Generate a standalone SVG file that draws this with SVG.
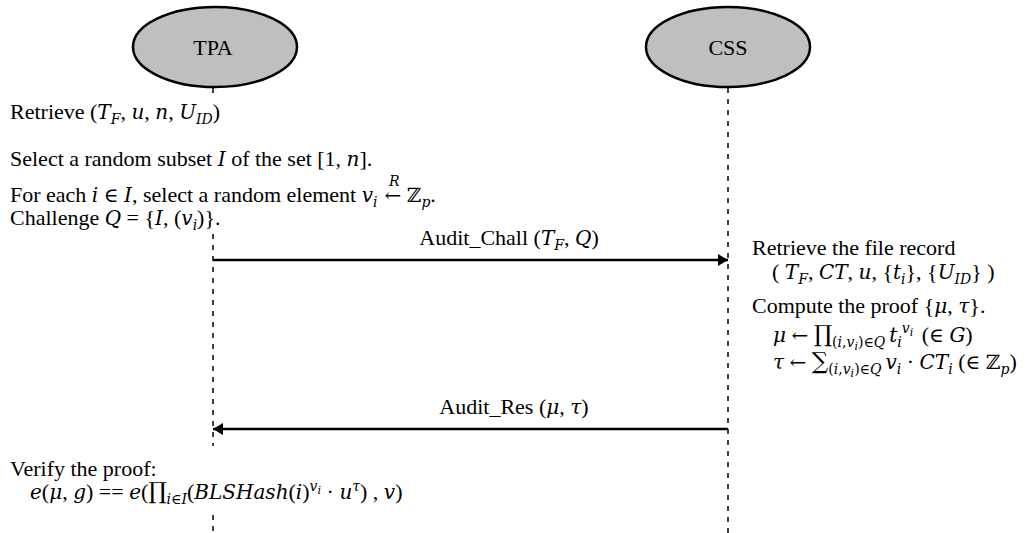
<svg xmlns="http://www.w3.org/2000/svg" width="1031" height="533" viewBox="0 0 1031 533">
<defs>
<style>
text{font-family:"Liberation Serif","Times New Roman",serif;font-size:22px;fill:#000}
.m{font-family:"DejaVu Serif",serif;font-style:italic;font-size:20px}
.u{font-family:"DejaVu Serif",serif;font-size:20px}
.big{font-family:"DejaVu Serif",serif;font-size:23px}
.s{font-family:"DejaVu Serif",serif;font-size:14px}
.ss{font-family:"DejaVu Serif",serif;font-size:11px}
.life{stroke:#000;stroke-width:1.5;stroke-dasharray:5 6;fill:none}
.node{fill:#bfbfbf;stroke:#000;stroke-width:2.5}
.msg{stroke:#000;stroke-width:2.5;fill:none}
</style>
<marker id="ah" viewBox="0 0 10 12" refX="10" refY="6" markerWidth="10" markerHeight="12" markerUnits="userSpaceOnUse" orient="auto">
<path d="M0,0 L10,6 L0,12 Z" fill="#000"/>
</marker>
</defs>
<rect width="1031" height="533" fill="#fff"/>
<g id="TPA">
<ellipse class="node" cx="215" cy="47" rx="82" ry="40"/>
<text x="213" y="55" text-anchor="middle">TPA</text>
</g>
<g id="CSS">
<ellipse class="node" cx="728" cy="47" rx="82" ry="40"/>
<text x="728" y="55" text-anchor="middle">CSS</text>
</g>
<g id="lifelines">
<line class="life" x1="213" y1="88" x2="213" y2="97"/>
<line class="life" x1="213" y1="234" x2="213" y2="446"/>
<line class="life" x1="213" y1="515" x2="213" y2="533"/>
<line class="life" x1="728" y1="88" x2="728" y2="533"/>
</g>
<g id="connectors">
<line class="msg" x1="213" y1="260" x2="728" y2="260" marker-end="url(#ah)"/>
<line class="msg" x1="728" y1="429" x2="213" y2="429" marker-end="url(#ah)"/>
<text x="509" y="245" text-anchor="middle">Audit_Chall (<tspan class="m">T</tspan><tspan class="s" font-style="italic" dy="5">F</tspan><tspan dy="-5">, </tspan><tspan class="m">Q</tspan>)</text>
<text x="514" y="414" text-anchor="middle">Audit_Res (<tspan class="m">μ</tspan>, <tspan class="m">τ</tspan>)</text>
</g>
<g id="tpa-text">
<text x="10" y="119">Retrieve (<tspan class="m">T</tspan><tspan class="s" font-style="italic" dy="5">F</tspan><tspan dy="-5">, </tspan><tspan class="m">u</tspan>, <tspan class="m">n</tspan>, <tspan class="m">U</tspan><tspan class="s" font-style="italic" dy="5">ID</tspan><tspan dy="-5">)</tspan></text>
<text x="10" y="166">Select a random subset <tspan class="m">I</tspan> of the set [1, <tspan class="m">n</tspan>].</text>
<text x="10" y="202">For each <tspan class="m">i</tspan> <tspan class="u">∈</tspan> <tspan class="m">I</tspan>, select a random element <tspan class="m">v</tspan><tspan class="s" font-style="italic" dy="5">i</tspan><tspan dy="-5"> </tspan><tspan class="s" font-style="italic" dx="6" dy="-16">R</tspan><tspan class="u" dx="-15" dy="16">←</tspan> <tspan class="u">ℤ</tspan><tspan class="s" font-style="italic" dy="5">p</tspan><tspan dy="-5">.</tspan></text>
<text x="10" y="225">Challenge <tspan class="m">Q</tspan> = {<tspan class="m">I</tspan>, (<tspan class="m">v</tspan><tspan class="s" font-style="italic" dy="5">i</tspan><tspan dy="-5">)}.</tspan></text>
<text x="10" y="476">Verify the proof:</text>
<text x="30" y="499"><tspan class="m">e</tspan>(<tspan class="m">μ</tspan>, <tspan class="m">g</tspan>) == <tspan class="m">e</tspan>(<tspan class="big">∏</tspan><tspan class="s" font-style="italic" dy="5">i</tspan><tspan class="s">∈</tspan><tspan class="s" font-style="italic">I</tspan><tspan dy="-5">(</tspan><tspan class="m">BLSHash</tspan>(<tspan class="m">i</tspan>)<tspan class="s" font-style="italic" dy="-8">v</tspan><tspan class="ss" font-style="italic" dy="3">i</tspan><tspan dy="5"> · </tspan><tspan class="m">u</tspan><tspan class="s" font-style="italic" dy="-8">τ</tspan><tspan dy="8">) , </tspan><tspan class="m">v</tspan>)</text>
</g>
<g id="css-text">
<text x="752" y="255">Retrieve the file record</text>
<text x="772" y="279">( <tspan class="m">T</tspan><tspan class="s" font-style="italic" dy="5">F</tspan><tspan dy="-5">, </tspan><tspan class="m">CT</tspan>, <tspan class="m">u</tspan>, {<tspan class="m">t</tspan><tspan class="s" font-style="italic" dy="5">i</tspan><tspan dy="-5">}, {</tspan><tspan class="m">U</tspan><tspan class="s" font-style="italic" dy="5">ID</tspan><tspan dy="-5">} )</tspan></text>
<text x="752" y="313">Compute the proof {<tspan class="m">μ</tspan>, <tspan class="m">τ</tspan>}.</text>
<text x="773" y="342"><tspan class="m">μ</tspan> <tspan class="u">←</tspan> <tspan class="big">∏</tspan><tspan class="s" dy="5">(</tspan><tspan class="s" font-style="italic">i</tspan><tspan class="s">,</tspan><tspan class="s" font-style="italic">v</tspan><tspan class="ss" font-style="italic" dy="3">i</tspan><tspan class="s" dy="-3">)∈</tspan><tspan class="s" font-style="italic">Q</tspan><tspan class="m" dx="4" dy="-5">t</tspan><tspan class="s" font-style="italic" dy="5">i</tspan><tspan class="s" font-style="italic" dy="-14">v</tspan><tspan class="ss" font-style="italic" dy="3">i</tspan><tspan dx="3" dy="6"> (</tspan><tspan class="u">∈</tspan> <tspan class="m">G</tspan>)</text>
<text x="773" y="369"><tspan class="m">τ</tspan> <tspan class="u">←</tspan> <tspan class="big">∑</tspan><tspan class="s" dy="5">(</tspan><tspan class="s" font-style="italic">i</tspan><tspan class="s">,</tspan><tspan class="s" font-style="italic">v</tspan><tspan class="ss" font-style="italic" dy="3">i</tspan><tspan class="s" dy="-3">)∈</tspan><tspan class="s" font-style="italic">Q</tspan><tspan class="m" dx="4" dy="-5">v</tspan><tspan class="s" font-style="italic" dy="5">i</tspan><tspan dy="-5"> · </tspan><tspan class="m">CT</tspan><tspan class="s" font-style="italic" dy="5">i</tspan><tspan dy="-5"> (</tspan><tspan class="u">∈</tspan> <tspan class="u">ℤ</tspan><tspan class="s" font-style="italic" dy="5">p</tspan><tspan dy="-5">)</tspan></text>
</g>
</svg>
